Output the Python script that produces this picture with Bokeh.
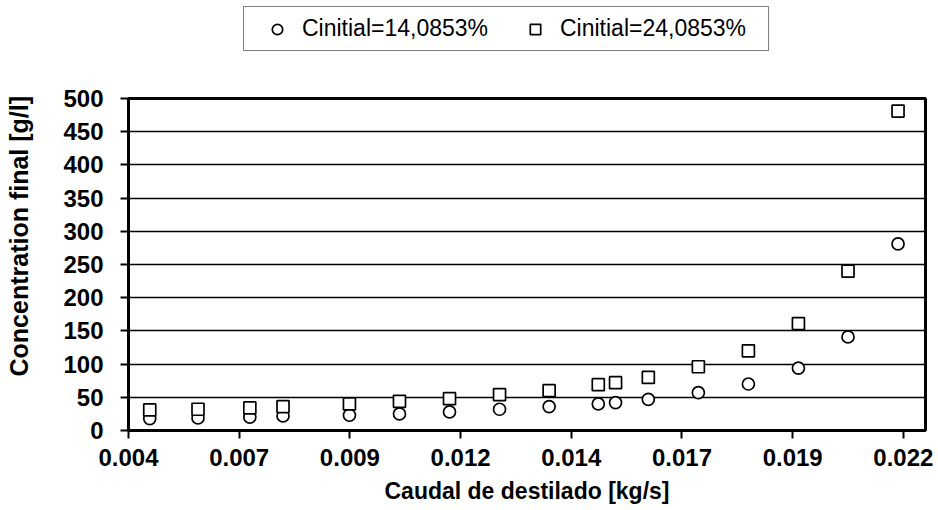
from bokeh.plotting import figure
from bokeh.layouts import column
from bokeh.models import Range1d, FixedTicker, Legend, LegendItem, Title
from bokeh.embed import file_html
from bokeh.resources import INLINE

# ---- data ----
flow = [0.00498, 0.00607, 0.00724, 0.00799, 0.00949, 0.01062, 0.01175, 0.01288,
        0.01400, 0.01511, 0.01550, 0.01624, 0.01737, 0.01850, 0.01963, 0.02075, 0.02188]
conc_14 = [18, 19, 20, 22, 23, 25, 28, 32, 36, 40, 42, 47, 57, 70, 94, 141, 281]
conc_24 = [31, 32, 34, 36, 40, 44, 48, 54, 60, 69, 72, 80, 96, 120, 161, 240, 481]
series_names = ["Cinitial=14,0853%", "Cinitial=24,0853%"]

x_ticks = [0.0045, 0.007, 0.0095, 0.012, 0.0145, 0.017, 0.0195, 0.022]
x_tick_labels = ["0.004", "0.007", "0.009", "0.012", "0.014", "0.017", "0.019", "0.022"]
y_ticks = [0, 50, 100, 150, 200, 250, 300, 350, 400, 450, 500]

x_title = "Caudal de destilado [kg/s]"
y_title = "Concentration final [g/l]"

FONT = "Liberation Sans"
MARK = dict(size=12, line_color="black", line_width=1.7, fill_color="white")

# ---------------- main chart ----------------
p = figure(width=938, height=450, output_backend="svg", toolbar_location=None,
           x_range=Range1d(0.0045, 0.0225), y_range=Range1d(0, 500),
           min_border_left=127, min_border_right=13, min_border_top=38, min_border_bottom=80)
p.background_fill_color = "white"
p.border_fill_color = "white"
p.outline_line_color = "black"
p.outline_line_width = 3

p.xaxis.ticker = FixedTicker(ticks=x_ticks)
p.xaxis.major_label_overrides = dict(zip(x_ticks, x_tick_labels))
p.yaxis.ticker = FixedTicker(ticks=y_ticks)
for ax in (p.xaxis, p.yaxis):
    ax.axis_line_color = "black"
    ax.axis_line_width = 3
    ax.major_tick_line_color = "black"
    ax.major_tick_line_width = 2
    ax.major_tick_out = 8
    ax.major_tick_in = 0
    ax.minor_tick_line_color = None
    ax.major_label_text_font = FONT
    ax.major_label_text_font_style = "bold"
    ax.major_label_text_font_size = "24px"
    ax.major_label_text_color = "black"
p.xaxis.major_label_standoff = 10
p.yaxis.major_label_standoff = 17

p.xaxis.axis_label = x_title
p.xaxis.axis_label_standoff = 9
p.xaxis.axis_label_text_font = FONT
p.xaxis.axis_label_text_font_style = "bold"
p.xaxis.axis_label_text_font_size = "23px"
p.xaxis.axis_label_text_color = "black"

# a blank, tiny axis label widens the y-axis panel so the title sits further out
p.yaxis.axis_label = " "
p.yaxis.axis_label_standoff = 17
p.yaxis.axis_label_text_font_size = "2px"

p.xgrid.visible = False
p.ygrid.ticker = FixedTicker(ticks=y_ticks)
p.ygrid.grid_line_color = "black"
p.ygrid.grid_line_width = 1.5

p.scatter(flow, conc_14, marker="circle", **MARK)
p.scatter(flow, conc_24, marker="square", **MARK)

p.add_layout(Title(text=y_title, align="left", offset=54, vertical_align="top",
                   standoff=8, text_font=FONT, text_font_style="bold",
                   text_font_size="25px", text_color="black"), "left")

# ---------------- legend strip ----------------
lg = figure(width=938, height=60, output_backend="svg", toolbar_location=None,
            x_axis_type=None, y_axis_type=None, x_range=Range1d(0, 1), y_range=Range1d(0, 1),
            min_border_left=0, min_border_right=0, min_border_top=0, min_border_bottom=0)
lg.outline_line_color = None
lg.grid.visible = False
lg.background_fill_color = "white"
lg.border_fill_color = "white"
# legend keys (the series lie outside this strip's range, so only the keys show)
k1 = lg.scatter(flow, conc_14, marker="circle", **MARK)
k2 = lg.scatter(flow, conc_24, marker="square", **MARK)

legend = Legend(items=[LegendItem(label=series_names[0], renderers=[k1]),
                       LegendItem(label=series_names[1], renderers=[k2])],
                orientation="horizontal", location=(115, 9),
                padding=8, spacing=8, glyph_width=50, glyph_height=26,
                label_standoff=0, label_width=200, label_height=26, margin=0,
                border_line_color="black", border_line_width=1.5,
                background_fill_color="white", background_fill_alpha=1,
                label_text_font=FONT, label_text_font_size="23px",
                label_text_color="black")
lg.add_layout(legend, "center")

layout = column(lg, p, spacing=0)
open("out.html", "w").write(file_html(layout, INLINE))
